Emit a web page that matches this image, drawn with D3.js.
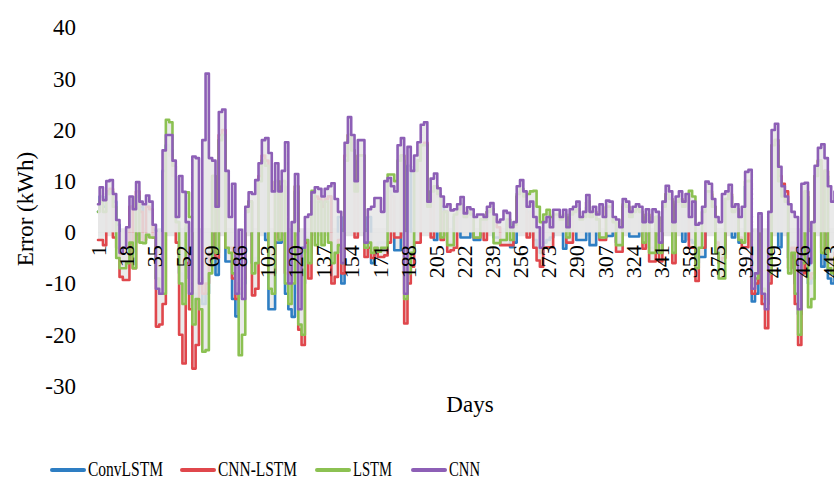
<!DOCTYPE html>
<html>
<head>
<meta charset="utf-8">
<title>Error by day</title>
<script src="https://d3js.org/d3.v7.min.js"></script>
<style>
body {
	margin: 0;
	background: #fff;
}
text {
	font-family: "Liberation Serif", "Times New Roman", serif;
	fill: #000;
}
</style>
</head>
<body>
<svg id="chart" width="834" height="479"></svg>
<script type="text/javascript">

	// one value every second day, day 1 .. 451
	var days = d3.range(1, 452, 2);
	var xTicks = [1, 18, 35, 52, 69, 86, 103, 120, 137, 154, 171, 188, 205, 222, 239, 256, 273, 290, 307, 324, 341, 358, 375, 392, 409, 426, 443];
	var yTicks = [-30, -20, -10, 0, 10, 20, 30, 40];

	var convLSTM = [
		4, 7, 5, 8, 8, 6, 1.5, -3, -4, -2,
		5, -2, 7, 5, -1, 5, 4, 0.5, -9, -10,
		12, 17, 16, 11, 2, -8, -12, 1, -9, -14,
		-12, -8, -14, -12, -5, 10, -8.3, 18, 19, -5.7,
		-5.7, -13, -16.4, -12, -10, 4, 6, -6, -5, 10,
		14, -1.5, -15, -15, -2, -2, 9, -12, -15, -16.5,
		8, -12, -10, -1, -4, 6, 6, 6, 5, 6,
		7, -5, -4, 3, -10, 14, 18, 15, 8, 14,
		14, -2.5, 3, -6, -4, -2, -2, -2, 8, 7,
		-3.5, -3.5, 14, -8, 13, -3, 12, 14, 17, 17,
		5, 8, -1.5, 6, 5, 4, -2, -2, 3, 4,
		-1, -1, -1, 3, -1.5, -1.5, 2, 2, 4, 4,
		-1, -1, -1.5, -1.5, 2, -2.9, -2, 7, 8, 6,
		4, 4, -1.5, -3, -4, -2, -1.5, -1, 3, 3,
		2, -3.2, -1, 3, 4, -1.5, -1.5, -1.5, 5, -2.5,
		-2.5, 2, -1, -1, -0.7, -0.7, 2, -2, -2, 5,
		4, -0.8, -0.8, -0.8, 3, -2, 3, -3, -3, 3,
		-4, 4, 7, 6, -4, 5, 6, -1.8, 5, -1.5,
		-2, -6, -4.8, -4.8, 8, 7, 5, -2, -5, -4,
		6, 7, -1, 4, -2, -1.5, 9, 9, -13.5, -12,
		2, -11, -14, -6, 16, 17, -2.9, 7, 5, -5,
		-2, -10, -16, -5, 7, -10, -9, 10, 13, -6.7,
		11, -9, -10, -6, 8, 5
	];
	var cnnLSTM = [
		-1.5, -1.5, -2.5, 8, 8.5, -1, -3, -8.7, -9.3, -9.3,
		5, -7, 8, 4, -1.5, 5, 4.5, -1, -18.4, -18,
		-14, 16, 15, 11, -2, -20, -25.6, -6, -15, -26.6,
		-22, -9, -12, -10, -4, 11, -5, 19, 20, -3,
		-3, -9, -13, -11, -9, 4, 6, -12.3, -11, 11,
		15, 14, -8, -8, 10, -1, 9, -8, -9, -8,
		9, -19, -22, -2, -9, 6, 7, 6.5, 5, 6.5,
		7, -10, -8.7, -1.5, -8, 15, 19, 16, -1, 15,
		15, -4.8, -3, -5, -3, -4.8, -4.8, -4.5, -2, 7,
		-1, -1, 15, -17.8, -10, -6.7, -2, -2, 17, 17.5,
		5, -1, 9, 7, -1.5, 4, -3.8, -3.5, -3, 4,
		5, 3, 4, 3.5, -1, -1, 2.5, -1.5, 4, 4.5,
		2.5, 1, -2.5, -2.5, -2.5, -2.5, 1, 7, 8, 6.5,
		-1, 4, -3, -5.5, -6.7, -3, -2.9, -2.9, 3, 3,
		2.5, 3, -2, -2, 4, 4.5, 2.5, 3, 6, 3,
		4, 2.5, -1.5, -1.5, 5, 4.5, 2, -3.8, -3.8, 5,
		5, 3, 4, 4, 4, -3.2, 3.5, -5.7, -5.7, 3,
		-5.7, 4.5, 7.5, 6.5, -6, 5.5, 6.5, 5, 6, -3,
		-3, -9.5, -3, -3, 8, 7.5, 5, -2, -6, -5,
		6.5, 7.5, 4, 4.5, -1, -2.9, -2.9, 10, -12, -10,
		3, -14, -18.7, -10, 17, 18, 11, 9.5, 8, -7,
		-3, -14, -22, -8, 8, -9, -8, 11, 14, -3,
		12, -5, -6, -4, 8, 5
	];
	var lstm = [
		4, 6, 4, 7.5, 8, 5, -5, -7, -7, -6,
		-2, -7, 7, -2, -2.1, -0.5, -1, -1, -9, -12,
		-12, 22, 21.5, 13, 2, -10, -14, 7.8, 3, -18,
		-13, -15, -23.3, -23, -8, 11, -4, 18, 19, -3,
		-4, -8, -10, -24, -20, 4, 6, -8, -6, 10,
		14, 13, -11, -12, 10, -1.5, 10, -10, -14, -10,
		9, -18, -20, -1.5, -6, 8.1, -2.5, 6, -2.5, 6,
		-2, -6, -4, -2.5, -6, 14, 19, 16, 8, 15,
		15, -3, -2, -4, -3, -3.8, -3, -3, 11.3, 11.3,
		10, 14, 15, -13, -8, -4, 12, 14, 17, 17,
		5, 8, 9, 7.5, -1, 4, -2.5, -2.5, 3.5, 4.5,
		5.5, 3, 4, 3.5, -1, -1, 2.5, 2.5, 4, 4.5,
		-2.1, -2.1, -1.5, -1.5, 2.5, -1.5, 1.5, 7.5, 8.5, 7,
		7.5, 8, 8.1, 5, 2, 3.5, 4.4, 3, 3.5, 3.5,
		2.5, 3.5, -1, 3.5, 4, 4.5, 2.5, 3, 6, 3,
		4, 2.5, -1, -1, 5, 5, 2, -2.5, -2.5, 5.5,
		5, 3, 4, 4.5, 4, -2, 3.5, -4, -4, 3,
		-4, 5, 7.5, 6.5, -4, 6, 6.5, 5, 6, 8.1,
		7, -7, -3, 4, 8, 8, 5, -4, -9, -9,
		6.5, 7.5, 4, 4.5, -1.5, -2, 10, 10, -10, -9,
		3, -11, -13, -8, 17, 18, 10, 7, 6, -8,
		-4, -12, -20, -6, 8, -14.6, -13, 11, 14, -4,
		12, -7, -8, -5, 8, 5
	];
	var cnn = [
		5.5, 8.8, 6.3, 10, 10.2, 7.5, 2.4, -4, -3, 1,
		7, 4.5, 9.8, 6, 5.5, 7.2, 6, 1.5, -11, -12,
		16, 19, 19, 14, 3, 11, 7.9, 2, -12, 14.8,
		14.5, -10, 18, 31, 14.5, 14, 5, 23.5, 24, 12,
		3, 9.5, -12, 0.5, -13, 5, 7.8, 7.5, 10.2, 13.5,
		18, 18.4, 15.5, 8, 13.5, 8, 12, 17.6, -10, 2,
		11.4, -15, -3, 3, 3.5, 7.8, 8.8, 8.5, 7, 8.5,
		9, 9.6, 6.5, 4, -6, 17.5, 22.5, 19, 10, 18,
		18, -2, 4.5, 5, 6.7, 6.7, 4, 10, 10.6, 9,
		8, 17, 18.4, -12, 16.7, 12, 15, 17.6, 21, 21.5,
		6, 10.5, 11.5, 8.6, 7, 5, 5.5, 4.3, 4.5, 5.5,
		6.9, 3.7, 4.9, 4.5, 3, 3.5, 3.5, 3, 5, 5.7,
		3.5, 2, 2.5, 4.2, 3.8, 1, 2, 9, 10.2, 8,
		5, 6, 3, 1, -3, 2, 3, 1, 4.4, 4.4,
		3, 4.4, 1, 4.5, 5, 6, 3, 4, 7.3, 4,
		5, 3.5, 5.5, 3, 6.2, 6, 3, 2.5, 1, 6.5,
		6, 4, 5, 5.5, 5, 2, 4.5, 2, 4.5, 4,
		-2, 6, 9.1, 8, 2, 7, 8, 6, 7.5, 3,
		6, 1.5, 1.8, 5, 9.9, 9.5, 6.5, 3, 2, 7.5,
		8, 9.3, 5, 5.5, 3, 5, 11.8, 12.2, -11, -8,
		3.7, -12, -15, 4, 20, 21.2, 12.8, 9, 7, 5.5,
		4, 3, -15, 9.5, 9.7, -6, 2, 13, 16.5, 17.2,
		14.5, 9, 6, 8, 10, 6
	];

	var seriesNames = ["ConvLSTM", "CNN-LSTM", "LSTM", "CNN"];
	var seriesValues = [convLSTM, cnnLSTM, lstm, cnn];
	var seriesColors = ["#2e7ec3", "#e0474c", "#8cc152", "#8d5fb6"];

	var serif = "'Liberation Serif', 'Times New Roman', serif";
	var svg = d3.select("#chart");

	var x = d3.scaleLinear().domain([1, 451]).range([98, 842.75]);
	var y = d3.scaleLinear().domain([-30, 40]).range([386, 27.5]);

	// zero band under the areas (Excel-like light grey horizontal axis)
	svg.append("line")
		.attr("x1", x(1))
		.attr("x2", 834)
		.attr("y1", y(0))
		.attr("y2", y(0))
		.attr("stroke", "#e6e6e6")
		.attr("stroke-width", 8);

	var area = d3.area()
		.x(function (d) { return x(d.day); })
		.y0(y(0))
		.y1(function (d) { return y(d.v); })
		.curve(d3.curveStep);
	var line = d3.line()
		.x(function (d) { return x(d.day); })
		.y(function (d) { return y(d.v); })
		.curve(d3.curveStep);

	var plot = svg.append("g");
	seriesValues.forEach(function (vals, i) {
		var data = days.map(function (d, j) { return {day: d, v: vals[j]}; });
		plot.append("path")
			.datum(data)
			.attr("d", area)
			.attr("fill", "#e6e6e6")
			.attr("fill-opacity", 0.85);
		plot.append("path")
			.datum(data)
			.attr("d", line)
			.attr("fill", "none")
			.attr("stroke", seriesColors[i])
			.attr("stroke-width", 2.6)
			.attr("stroke-linejoin", "round")
			.attr("stroke-linecap", "round");
	});

	// y axis, labels only
	var yAxis = svg.append("g")
		.attr("transform", "translate(80,0)")
		.call(d3.axisLeft(y).tickValues(yTicks).tickSize(0).tickPadding(4).tickFormat(function (d) { return String(d); }));
	yAxis.attr("font-family", serif).attr("font-size", 23);
	yAxis.select(".domain").remove();

	// x axis labels on top of the areas
	var xAxis = svg.append("g")
		.attr("transform", "translate(0," + y(0) + ")")
		.call(d3.axisBottom(x).tickValues(xTicks).tickSize(0).tickFormat(function (d) { return String(d); }));
	xAxis.attr("font-family", serif).attr("font-size", 22);
	xAxis.select(".domain").remove();
	xAxis.selectAll("text")
		.attr("transform", "rotate(-90)")
		.attr("text-anchor", "end")
		.attr("x", -13)
		.attr("y", 0)
		.attr("dy", "0.35em");

	// axis titles
	svg.append("text")
		.attr("transform", "translate(33,209) rotate(-90)")
		.attr("text-anchor", "middle")
		.style("font-size", "23px")
		.text("Error (kWh)");
	svg.append("text")
		.attr("x", 470)
		.attr("y", 412)
		.attr("text-anchor", "middle")
		.style("font-size", "23px")
		.text("Days");

	// legend
	var legendX = [52, 182, 317, 413];
	var legendWidth = [75, 79, 39, 31];
	var legend = svg.selectAll("g.legend")
		.data(seriesNames)
		.enter().append("g")
			.attr("class", "legend")
			.attr("transform", function (d, i) { return "translate(" + legendX[i] + ",0)"; });
	legend.append("line")
		.attr("x1", 0)
		.attr("x2", 32)
		.attr("y1", 470)
		.attr("y2", 470)
		.attr("stroke", function (d, i) { return seriesColors[i]; })
		.attr("stroke-width", 4)
		.attr("stroke-linecap", "round");
	legend.append("text")
		.attr("x", 36)
		.attr("y", 476)
		.attr("textLength", function (d, i) { return legendWidth[i]; })
		.attr("lengthAdjust", "spacingAndGlyphs")
		.style("font-size", "22px")
		.text(function (d) { return d; });

</script>
</body>
</html>
